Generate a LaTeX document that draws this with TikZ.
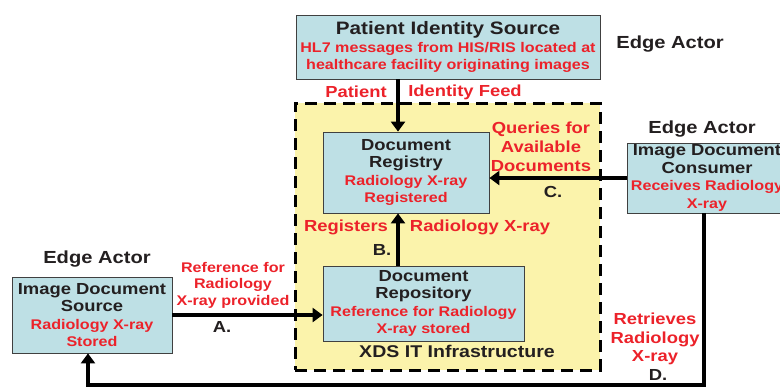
\documentclass[tikz,border=0pt]{standalone}
\usepackage{fontspec}
\setmainfont{Liberation Sans}[FakeStretch=1.15]
\usepackage{tikz}
\usetikzlibrary{arrows.meta}

\definecolor{lblred}{RGB}{236,34,42}
\definecolor{boxfill}{RGB}{190,224,229}
\definecolor{infrafill}{RGB}{251,243,171}
\definecolor{darktext}{RGB}{35,31,32}

\newcommand{\redline}[1]{{\color{lblred}\fontsize{14}{17.5}\selectfont #1}}

\begin{document}
\begin{tikzpicture}[x=1pt, y=-1pt,
        actorbox/.style={draw=black!75, line width=0.8pt, fill=boxfill, align=center, inner sep=0pt,
            text=darktext, font=\bfseries\fontsize{16}{17.5}\selectfont},
        flow/.style={-{Triangle[length=10pt, width=14pt]}, line width=3.5pt},
        lbl/.style={text=lblred, align=center, font=\bfseries\fontsize{16}{19}\selectfont},
        tag/.style={text=darktext, font=\bfseries\fontsize{16}{19}\selectfont}]
        \clip (0, 0) rectangle (780, 386);

        % XDS infrastructure area
        \node[draw, line width=3pt, dash pattern=on 12pt off 7pt, fill=infrafill,
            minimum width=305pt, minimum height=267pt] at (447.5, 236.5)   (infra) {};
        \node[tag, font=\bfseries\fontsize{17}{19}\selectfont] at (457, 351)   (infra_lbl) {XDS IT Infrastructure};

        \node[actorbox, minimum width=304pt, minimum height=64pt] at (448, 47)   (pis)
            {{\fontsize{18}{17.5}\selectfont Patient Identity Source}\\ \redline{HL7 messages from HIS/RIS located at}\\ \redline{healthcare facility originating images}};
        \node[actorbox, minimum width=166pt, minimum height=81pt] at (406, 172.5)   (registry)
            {Document\\ Registry\\ \redline{Radiology X-ray}\\ \redline{Registered}};
        \node[actorbox, minimum width=201pt, minimum height=75pt] at (423.5, 303.5)   (repository)
            {Document\\ Repository\\ \redline{Reference for Radiology}\\ \redline{X-ray stored}};
        \node[actorbox, minimum width=160pt, minimum height=70pt] at (707, 178)   (consumer)
            {Image Document\\ Consumer\\ \redline{Receives Radiology}\\ \redline{X-ray}};
        \node[actorbox, minimum width=160pt, minimum height=76pt] at (92, 315)   (source)
            {Image Document\\ Source\\ \redline{Radiology X-ray}\\ \redline{Stored}};

        \node[tag, font=\bfseries\fontsize{17.5}{19}\selectfont] at (670, 44)   (edge_pis) {Edge Actor};
        \node[tag, font=\bfseries\fontsize{17.5}{19}\selectfont] at (702, 129)   (edge_con) {Edge Actor};
        \node[tag, font=\bfseries\fontsize{17.5}{19}\selectfont] at (97, 259)   (edge_src) {Edge Actor};

        % connectors
        \coordinate (feed_x) at (398, 0);
        \coordinate (d_top) at (704, 0);
        \coordinate (d_bot) at (704, 385);
        \coordinate (d_left) at (88, 385);
        \draw[flow] (pis.south -| feed_x) -- (registry.north -| feed_x);
        \draw[flow] (repository.north -| feed_x) -- (registry.south -| feed_x);
        \draw[flow] (consumer.west) -- (registry.east |- consumer.west);
        \draw[flow] (source.east) -- (repository.west |- source.east);
        \draw[flow] (consumer.south -| d_top) -- (d_bot) -- (d_left) -- (source.south -| d_left);

        % labels
        \node[lbl] at (356, 92)   (feed_a) {Patient};
        \node[lbl] at (465, 92)   (feed_b) {Identity Feed};
        \node[lbl] at (346, 227)   (reg_a) {Registers};
        \node[lbl] at (480, 227)   (reg_b) {Radiology X-ray};
        \node[tag] at (382, 250)   (step_b) {B.};
        \node[lbl] at (541, 147)   (query) {Queries for\\ Available\\ Documents};
        \node[tag] at (553, 192)   (step_c) {C.};
        \node[lbl, font=\bfseries\fontsize{14}{16.5}\selectfont] at (233, 285)   (provide) {Reference for\\ Radiology\\ X-ray provided};
        \node[tag] at (222, 327)   (step_a) {A.};
        \node[lbl, font=\bfseries\fontsize{16}{18.5}\selectfont] at (655, 339)   (retrieve) {Retrieves\\ Radiology\\ X-ray};
        \node[tag] at (658, 375)   (step_d) {D.};
    \end{tikzpicture}
\end{document}
